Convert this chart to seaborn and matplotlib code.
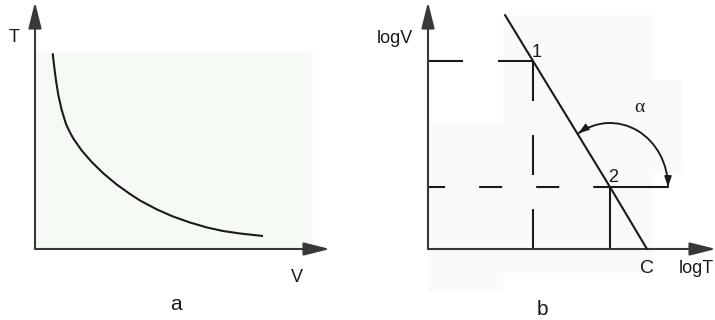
import numpy as np
import pandas as pd
import matplotlib
matplotlib.use("Agg")
import matplotlib.pyplot as plt
from matplotlib.patches import Arc, Rectangle
import seaborn as sns

# ---- panel a: T versus V (hyperbolic decline) ----
v_vals = [0.177, 0.19, 0.207, 0.233, 0.267, 0.31, 0.345, 0.383, 0.467, 0.567,
          0.683, 0.817, 0.95, 1.05, 1.22, 1.38, 1.55, 1.72, 1.88, 2.05, 2.28]
t_vals = [1.957, 1.84, 1.707, 1.54, 1.39, 1.25, 1.175, 1.105, 0.985, 0.87,
          0.757, 0.645, 0.55, 0.485, 0.395, 0.325, 0.265, 0.215, 0.18, 0.155, 0.13]

# ---- panel b: logV versus logT (straight line) ----
log_t = [0.77, 1.05, 1.82, 2.19]
log_v = [2.34, 1.88, 0.62, 0.00]
point1 = (1.05, 1.88)
point2 = (1.82, 0.62)
point_c = (2.19, 0.00)
angle_ref_end = 2.40      # end of the horizontal reference ray at point 2
alpha_deg = 120.6         # angle between the ray and the line

sns.set_theme(style="white")
plt.rcParams["font.family"] = ["Liberation Sans", "DejaVu Sans"]
plt.rcParams["lines.scale_dashes"] = False

INK = "#1a1a1a"
AXIS = "#383838"
TINT_A = "#f6faf5"
TINT_B = "#f8fbf7"
LW = 1.5

fig = plt.figure(figsize=(7.15, 3.2), dpi=100)
fig.patch.set_facecolor("white")

ax_a = fig.add_axes([0.0, 0.0, 0.5, 1.0])
ax_b = fig.add_axes([0.5, 0.0, 0.5, 1.0])
ax_a.set_xlim(-0.35, 3.225)
ax_a.set_ylim(-0.71, 2.49)
ax_b.set_xlim(-0.705, 2.87)
ax_b.set_ylim(-0.71, 2.49)
for ax in (ax_a, ax_b):
    ax.set_axis_off()


def axis_arrow(ax, start, tip):
    ax.annotate("", xy=tip, xytext=start, annotation_clip=False,
                arrowprops=dict(arrowstyle="-|>,head_length=1.6,head_width=0.4",
                                mutation_scale=10, color=AXIS, lw=LW,
                                shrinkA=0, shrinkB=0), zorder=3)


# ---------- panel a ----------
ax_a.add_patch(Rectangle((0.0, 0.0), 2.77, 1.96, facecolor=TINT_A,
                         edgecolor="none", zorder=0))
axis_arrow(ax_a, (0, 0), (0, 2.47))
axis_arrow(ax_a, (0, 0), (2.95, 0))
df_a = pd.DataFrame({"V": v_vals, "T": t_vals})
sns.lineplot(data=df_a, x="V", y="T", ax=ax_a, color=INK, lw=LW, zorder=4,
             solid_joinstyle="round", solid_capstyle="butt")
ax_a.set_xlabel("")
ax_a.set_ylabel("")
ax_a.text(-0.21, 2.07, "T", fontsize=13, color=INK, ha="center", va="baseline")
ax_a.text(2.62, -0.33, "V", fontsize=13, color=INK, ha="center", va="baseline")
ax_a.text(1.41, -0.61, "a", fontsize=15, color=INK, ha="center", va="baseline")

# ---------- panel b ----------
for (x0, y0, w, h) in [(0.75, -0.24, 1.50, 2.58), (0.0, -0.43, 0.75, 1.70),
                       (1.90, 0.76, 0.65, 0.93)]:
    ax_b.add_patch(Rectangle((x0, y0), w, h, facecolor=TINT_B,
                             edgecolor="none", zorder=0))
axis_arrow(ax_b, (0, 0), (0, 2.47))
axis_arrow(ax_b, (0, 0), (2.88, 0))

# projection guides of point 1 (dashed)
ax_b.plot([0, point1[0]], [point1[1], point1[1]], color=INK, lw=LW,
          linestyle=(0, (25.2, 25.2)), zorder=2)
ax_b.plot([point1[0], point1[0]], [point1[1], 0], color=INK, lw=LW,
          linestyle=(0, (28.8, 24.5)), zorder=2)
# projection guides of point 2
ax_b.plot([0, point2[0]], [point2[1], point2[1]], color=INK, lw=LW,
          linestyle=(4.3, (16.6, 24.5)), zorder=2)
ax_b.plot([point2[0], angle_ref_end], [point2[1], point2[1]], color=INK,
          lw=LW, zorder=2)
ax_b.plot([point2[0], point2[0]], [point2[1], 0], color=INK, lw=LW, zorder=2)

df_b = pd.DataFrame({"logT": log_t, "logV": log_v})
sns.lineplot(data=df_b, x="logT", y="logV", ax=ax_b, color=INK, lw=LW,
             zorder=4)
ax_b.set_xlabel("")
ax_b.set_ylabel("")

# angle arc between the horizontal ray and the line, arrows at both ends
a_half = angle_ref_end - point2[0]
b_half = 0.64
ax_b.add_patch(Arc(point2, 2 * a_half, 2 * b_half, theta1=0, theta2=alpha_deg,
                   color=INK, lw=LW * 0.9, zorder=4))


def ellipse_point(theta_deg):
    th = np.deg2rad(theta_deg)
    t = np.arctan2(a_half * np.sin(th), b_half * np.cos(th))
    pos = np.array([point2[0] + a_half * np.cos(t), point2[1] + b_half * np.sin(t)])
    tan = np.array([-a_half * np.sin(t), b_half * np.cos(t)])
    return pos, tan / np.linalg.norm(tan)


head = "-|>,head_length=0.65,head_width=0.22"
p_end, d_end = ellipse_point(alpha_deg)
ax_b.annotate("", xy=p_end, xytext=p_end - 0.07 * d_end,
              arrowprops=dict(arrowstyle=head, mutation_scale=10, color=INK,
                              lw=1.0, shrinkA=0, shrinkB=0), zorder=5)
p_start, d_start = ellipse_point(0.0)
ax_b.annotate("", xy=p_start, xytext=p_start + 0.07 * d_start,
              arrowprops=dict(arrowstyle=head, mutation_scale=10, color=INK,
                              lw=1.0, shrinkA=0, shrinkB=0), zorder=5)

ax_b.text(-0.335, 2.06, "logV", fontsize=13, color=INK, ha="center", va="baseline")
ax_b.text(2.505, -0.24, "logT", fontsize=13, color=INK, ha="left", va="baseline")
ax_b.text(point_c[0], -0.24, "C", fontsize=14, color=INK, ha="center", va="baseline")
ax_b.text(1.09, 1.92, "1", fontsize=13, color=INK, ha="center", va="baseline")
ax_b.text(1.85, 0.67, "2", fontsize=13, color=INK, ha="center", va="baseline")
ax_b.text(2.11, 1.37, "α", fontsize=14, color=INK, ha="center", va="baseline",
          family=["Liberation Serif", "DejaVu Serif"])
ax_b.text(1.14, -0.66, "b", fontsize=15, color=INK, ha="center", va="baseline")

fig.savefig("out.png", dpi=100, facecolor="white")
